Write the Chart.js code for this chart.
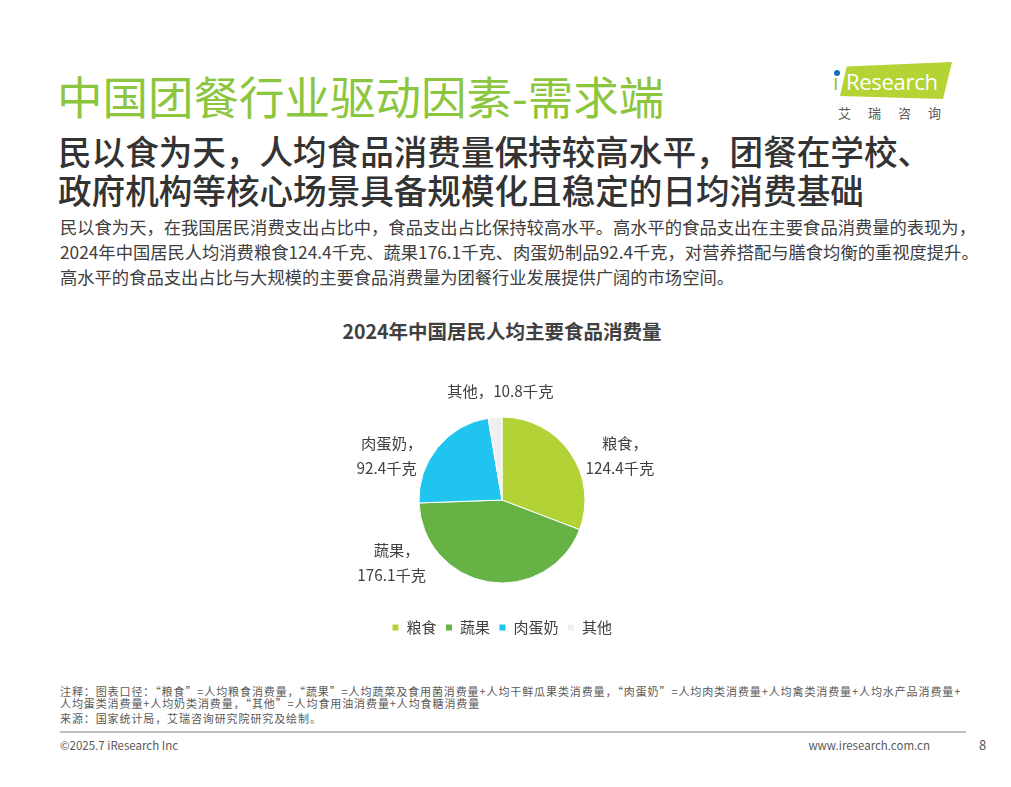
<!DOCTYPE html>
<html>
<head>
<meta charset="utf-8">
<script src="https://cdn.jsdelivr.net/npm/chart.js@4.4.1/dist/chart.umd.min.js"></script>
<style>
    body{
        margin:0;
        width:1011px;
        height:787px;
        background:#ffffff;
        position:relative;
        overflow:hidden;
        font-family:"Noto Sans CJK SC","Noto Sans",sans-serif;
        color:#404040;
    }
    .abs{ position:absolute; white-space:nowrap; }
    .titulo{ left:57px; top:67px; font-size:45.5px; color:#8cc63e; line-height:56px; }
    .sub{ left:58px; font-size:33.6px; color:#333333; line-height:38px; font-weight:500; }
    .texto{ left:60px; font-size:17.3px; color:#404040; line-height:24px; }
    .grafTitulo{ left:0; width:1004px; top:316px; text-align:center; font-size:19.5px; font-weight:bold; color:#404040; }
    #box{ position:absolute; left:302px; top:352px; width:400px; height:293px; }
    .nota{ left:60px; font-size:11px; color:#595959; line-height:11px; letter-spacing:0.9px; }
    .linha{ position:absolute; left:60px; top:731px; width:906px; height:2px; background:#bfbfbf; }
    .rodape{ top:737px; font-size:11.5px; color:#595959; }
    .logo{ left:840px; top:62px; width:112px; height:37px; background:#b4d335;
           clip-path:polygon(6% 12%,100% 0,92% 100%,0 92%); }
    .logoTxt{ left:846px; top:66px; font-family:"Open Sans",sans-serif; font-size:22px; color:#fff; letter-spacing:-0.3px; }
    .logoI{ left:833px; top:66px; font-family:"Open Sans",sans-serif; font-size:22px; color:#8cc63e; }
    .logoDot{ left:834px; top:70px; width:6px; height:6px; border-radius:3px; background:#1a6fc4; }
    .logoCn{ left:838px; top:103px; font-size:13px; color:#595959; letter-spacing:17px; }
</style>
</head>
<body>

<div class="abs titulo">中国团餐行业驱动因素-需求端</div>

<div class="abs logo"></div>
<div class="abs logoTxt">Research</div>
<div class="abs logoI">ı</div>
<div class="abs logoDot"></div>
<div class="abs logoCn">艾瑞咨询</div>

<div class="abs sub" style="top:132px;">民以食为天，人均食品消费量保持较高水平，团餐在学校、</div>
<div class="abs sub" style="top:171px;">政府机构等核心场景具备规模化且稳定的日均消费基础</div>

<div class="abs texto" style="top:215px;">民以食为天，在我国居民消费支出占比中，食品支出占比保持较高水平。高水平的食品支出在主要食品消费量的表现为，</div>
<div class="abs texto" style="top:240px;">2024年中国居民人均消费粮食124.4千克、蔬果176.1千克、肉蛋奶制品92.4千克，对营养搭配与膳食均衡的重视度提升。</div>
<div class="abs texto" style="top:265px;">高水平的食品支出占比与大规模的主要食品消费量为团餐行业发展提供广阔的市场空间。</div>

<div class="abs grafTitulo">2024年中国居民人均主要食品消费量</div>

<div id="box"><canvas id="graficoPizza"></canvas></div>

<div class="abs nota" style="top:686px;">注释：图表口径：“粮食”=人均粮食消费量，“蔬果”=人均蔬菜及食用菌消费量+人均干鲜瓜果类消费量，“肉蛋奶”=人均肉类消费量+人均禽类消费量+人均水产品消费量+</div>
<div class="abs nota" style="top:698px;">人均蛋类消费量+人均奶类消费量，“其他”=人均食用油消费量+人均食糖消费量</div>
<div class="abs nota" style="top:713px;">来源：国家统计局，艾瑞咨询研究院研究及绘制。</div>

<div class="linha"></div>
<div class="abs rodape" style="left:60px;">©2025.7 iResearch Inc</div>
<div class="abs rodape" style="right:81px;">www.iresearch.com.cn</div>
<div class="abs rodape" style="left:979px;font-size:13px;top:735px;">8</div>

<script>
// ==========================
// DADOS
// ==========================
const categorias = ["粮食","蔬果","肉蛋奶","其他"];

const consumos = [124.4, 176.1, 92.4, 10.8];

const unidade = "千克";

const cores = ["#b2d235","#67b245","#1fc5ef","#efefef"];

// posicao dos rotulos (em raios, relativo ao centro)
const rotuloPos = [
    [1.42,-0.53],
    [-1.33,0.75],
    [-1.39,-0.53],
    [-0.02,-1.31]
];

// ==========================
// ROTULOS
// ==========================
const rotulos = {
    id:"rotulos",
    afterDatasetsDraw(chart){
        const ctx = chart.ctx;
        const arcos = chart.getDatasetMeta(0).data;
        ctx.save();
        ctx.font = "15.3px 'Noto Sans CJK SC'";
        ctx.fillStyle = "#404040";
        ctx.textAlign = "center";
        ctx.textBaseline = "middle";
        arcos.forEach((arc, i) => {
            const r = arc.outerRadius;
            const x = arc.x + rotuloPos[i][0] * r;
            const y = arc.y + rotuloPos[i][1] * r;
            const valor = consumos[i].toFixed(1) + unidade;
            if(i === 3){
                ctx.fillText(categorias[i] + "，" + valor, x, y);
            } else {
                ctx.fillText(categorias[i] + "，", x + 5, y - 12.5);
                ctx.fillText(valor, x, y + 12.5);
            }
        });
        ctx.restore();
    }
};

// ==========================
// GRAFICO
// ==========================
new Chart(document.getElementById("graficoPizza"),{
    type:"pie",
    data:{
        labels:categorias,
        datasets:[{
            data:consumos,
            backgroundColor:cores,
            borderColor:"#ffffff",
            borderWidth:1,
            radius:83
        }]
    },
    options:{
        responsive:true,
        maintainAspectRatio:false,
        animation:false,
        layout:{ padding:{ top:37 } },
        plugins:{
            legend:{
                position:"bottom",
                labels:{
                    boxWidth:7,
                    boxHeight:7,
                    padding:9,
                    color:"#404040",
                    font:{ size:15, family:"'Noto Sans CJK SC'" }
                }
            },
            tooltip:{ enabled:false }
        }
    },
    plugins:[rotulos]
});
</script>
</body>
</html>
